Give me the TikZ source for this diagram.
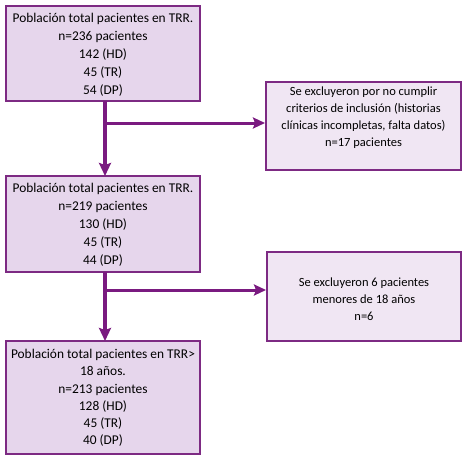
\documentclass[tikz,border=0pt]{standalone}
\usepackage{fontspec}
\setmainfont{Carlito}
\usetikzlibrary{arrows.meta}
\definecolor{boxline}{HTML}{7D2A83}
\definecolor{arrowcol}{HTML}{7A1A80}
\definecolor{fillA}{HTML}{E6D6EC}
\definecolor{fillB}{HTML}{F0E6F3}
\tikzset{
  x=1pt, y=1pt,
  boxA/.style={draw=boxline, line width=2pt, fill=fillA, inner sep=0pt},
  boxB/.style={draw=boxline, line width=2pt, fill=fillB, inner sep=0pt},
  txt/.style={align=center, inner sep=0pt, font=\fontsize{13.4}{18}\selectfont, text=black},
  txtR/.style={align=center, inner sep=0pt, font=\fontsize{12.5}{17}\selectfont, text=black},
  flow/.style={draw=arrowcol, line width=3.2pt, -{Stealth[length=13pt,width=12pt,inset=2pt]}},
  side/.style={draw=arrowcol, line width=3pt, -{Stealth[length=12pt,width=11pt,inset=2pt]}}
}
\begin{document}
\begin{tikzpicture}
\useasboundingbox (0,0) rectangle (471,-460);
% left boxes
\node[boxA, minimum width=194pt, minimum height=95pt] (b1) at (103,-53.5) {};
\node[txt] (t1) at (103,-55) {Población total pacientes en TRR.\\n=236 pacientes\\142 (HD)\\45 (TR)\\54 (DP)};
\node[boxA, minimum width=194pt, minimum height=96pt] (b2) at (103,-224) {};
\node[txt] (t2) at (103,-225) {Población total pacientes en TRR.\\n=219 pacientes\\130 (HD)\\45 (TR)\\44 (DP)};
\node[boxA, minimum width=194pt, minimum height=113pt] (b3) at (103,-397.5) {};
\node[txt, font=\fontsize{13.4}{17.2}\selectfont] (t3) at (103,-398) {Población total pacientes en TRR>\\18 años.\\n=213 pacientes\\128 (HD)\\45 (TR)\\40 (DP)};
% right boxes
\node[boxB, minimum width=195pt, minimum height=88pt] (r1) at (363.5,-126) {};
\node[txtR] (s1) at (363.5,-117.5) {Se excluyeron por no cumplir\\criterios de inclusión (historias\\clínicas incompletas, falta datos)\\n=17 pacientes};
\node[boxB, minimum width=194pt, minimum height=89pt] (r2) at (364,-296.5) {};
\node[txtR] (s2) at (364,-299) {Se excluyeron 6 pacientes\\menores de 18 años\\n=6};
% connectors
\coordinate (a1) at (105,-101);
\coordinate (a2) at (105,-176);
\coordinate (a3) at (105,-272);
\coordinate (a4) at (105,-341);
\coordinate (j1) at (105,-123);
\coordinate (j2) at (105,-290);
\draw[flow] (a1) -- (a2);
\draw[flow] (a3) -- (a4);
\draw[side] (j1) -- (j1 -| r1.west);
\draw[side] (j2) -- (j2 -| r2.west);
\end{tikzpicture}
\end{document}
